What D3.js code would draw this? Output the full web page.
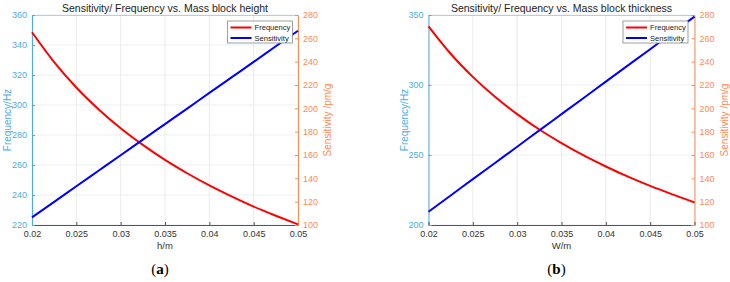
<!DOCTYPE html>
<html><head><meta charset="utf-8">
<script src="https://cdn.jsdelivr.net/npm/d3@7"></script>
<style>
body{margin:0;background:#fff;}
svg{display:block;font-family:"Liberation Sans",Arial,sans-serif;}
</style></head>
<body><svg id="c" width="730" height="282"></svg>
<script>
const xValues = [0.02,0.0225,0.025,0.0275,0.03,0.0325,0.035,0.0375,0.04,0.0425,0.045,0.0475,0.05];
const freqA = [348.5,328.6,311.7,297.2,284.5,273.4,263.4,254.5,246.4,239.1,232.3,226.2,220.4];
const sensA = [106.5,119.8,133.2,146.5,159.8,173.2,186.5,199.8,213.2,226.5,239.8,253.2,266.5];
const freqB = [341.9,322.3,305.8,291.6,279.2,268.2,258.5,249.7,241.8,234.5,227.9,221.9,216.2];
const sensB = [111.4,125.3,139.3,153.2,167.1,181.1,195.0,208.9,222.9,236.8,250.7,264.7,278.6];
const xTicks = [0.02,0.025,0.03,0.035,0.04,0.045,0.05];
const leftTicksA = [220,240,260,280,300,320,340,360];
const leftTicksB = [200,250,300,350];
const rightTicks = [100,120,140,160,180,200,220,240,260,280];
const seriesNames = ["Frequency","Sensitivity"];
const titles = ["Sensitivity/ Frequency vs. Mass block height","Sensitivity/ Frequency vs. Mass block thickness"];
const xLabels = ["h/m","W/m"];
const panelLabels = ["a","b"];

const leftColor = "#4aaee6", rightColor = "#ff8a55";
const svg = d3.select("#c");

function panel(opts){
  const {x0,x1,y0,y1,freq,sens,leftTicks,leftDomain,title,xlab,plab,legX} = opts;
  const g = svg.append("g");
  const x = d3.scaleLinear().domain([0.02,0.05]).range([x0,x1]);
  const yl = d3.scaleLinear().domain(leftDomain).range([y1,y0]);
  const yr = d3.scaleLinear().domain([100,280]).range([y1,y0]);
  // grid
  g.selectAll(".gx").data(xTicks).enter().append("line")
    .attr("x1",d=>x(d)).attr("x2",d=>x(d)).attr("y1",y0).attr("y2",y1)
    .attr("stroke","#e6e6e6").attr("stroke-width",0.8);
  g.selectAll(".gy").data(leftTicks).enter().append("line")
    .attr("x1",x0).attr("x2",x1).attr("y1",d=>yl(d)).attr("y2",d=>yl(d))
    .attr("stroke","#e2eef4").attr("stroke-width",0.8);
  // top box line
  g.append("line").attr("x1",x0).attr("x2",x1).attr("y1",y0+0.5).attr("y2",y0+0.5).attr("stroke","#bdbdbd").attr("stroke-width",0.8);
  // axes
  const ax = g.append("g").attr("transform",`translate(0,${y1})`)
    .call(d3.axisBottom(x).tickValues(xTicks).tickSize(-3).tickPadding(6).tickFormat(d3.format("")));
  ax.select(".domain").attr("stroke","#555");
  ax.selectAll(".tick line").attr("stroke","#555");
  ax.selectAll("text").attr("fill","#333").style("font-size","9px");
  const al = g.append("g").attr("transform",`translate(${x0},0)`)
    .call(d3.axisLeft(yl).tickValues(leftTicks).tickSize(-3).tickPadding(5).tickFormat(d3.format("d")));
  al.select(".domain").attr("stroke",leftColor);
  al.selectAll(".tick line").attr("stroke",leftColor);
  al.selectAll("text").attr("fill",leftColor).style("font-size","9px");
  const ar = g.append("g").attr("transform",`translate(${x1},0)`)
    .call(d3.axisRight(yr).tickValues(rightTicks).tickSize(-3).tickPadding(5).tickFormat(d3.format("d")));
  ar.select(".domain").attr("stroke",rightColor);
  ar.selectAll(".tick line").attr("stroke",rightColor);
  ar.selectAll("text").attr("fill",rightColor).style("font-size","9px");
  // lines
  const lf = d3.line().x((d,i)=>x(xValues[i])).y(d=>yl(d)).curve(d3.curveMonotoneX);
  const ls = d3.line().x((d,i)=>x(xValues[i])).y(d=>yr(d)).curve(d3.curveMonotoneX);
  g.append("path").attr("d",lf(freq)).attr("fill","none").attr("stroke","#ff0000").attr("stroke-width",2);
  g.append("path").attr("d",ls(sens)).attr("fill","none").attr("stroke","#0000ff").attr("stroke-width",2);
  // title
  g.append("text").attr("x",(x0+x1)/2).attr("y",y0-3).attr("text-anchor","middle")
    .style("font-size","10.5px").attr("fill","#222").text(title);
  // axis labels
  g.append("text").attr("x",(x0+x1)/2).attr("y",y1+24).attr("text-anchor","middle")
    .style("font-size","9.5px").attr("fill","#333").text(xlab);
  g.append("text").attr("transform",`translate(${x0-21},${(y0+y1)/2}) rotate(-90)`).attr("text-anchor","middle")
    .style("font-size","10px").attr("fill",leftColor).text("Frequency/Hz");
  g.append("text").attr("transform",`translate(${x1+33},${(y0+y1)/2}) rotate(-90)`).attr("text-anchor","middle")
    .style("font-size","10px").attr("fill",rightColor).text("Sensitivity /pm/g");
  // panel label
  const pl = g.append("text").attr("x",(x0+x1)/2-5).attr("y",y1+49).attr("text-anchor","middle")
    .style("font-family","'Liberation Serif','Times New Roman',serif").style("font-size","15px").attr("fill","#000");
  pl.append("tspan").text("(");
  pl.append("tspan").style("font-weight","bold").text(plab);
  pl.append("tspan").text(")");
  // legend
  const lg = g.append("g").attr("transform",`translate(${legX},${y0+6})`);
  lg.append("rect").attr("width",65).attr("height",22).attr("fill","#fff").attr("stroke","#888").attr("stroke-width",0.8);
  const cols = ["#ff0000","#0000ff"];
  seriesNames.forEach((n,i)=>{
    const yy = 6.5 + i*10.5;
    lg.append("line").attr("x1",3).attr("x2",24).attr("y1",yy).attr("y2",yy).attr("stroke",cols[i]).attr("stroke-width",2);
    lg.append("text").attr("x",27).attr("y",yy+2.7).style("font-size","7.6px").attr("fill","#222").text(n);
  });
}

panel({x0:32,x1:298,y0:15,y1:225,freq:freqA,sens:sensA,leftTicks:leftTicksA,leftDomain:[220,360],
  title:titles[0],xlab:xLabels[0],plab:panelLabels[0],legX:227.5});
panel({x0:428.5,x1:694.5,y0:15,y1:225,freq:freqB,sens:sensB,leftTicks:leftTicksB,leftDomain:[200,350],
  title:titles[1],xlab:xLabels[1],plab:panelLabels[1],legX:623});
</script>
</body></html>
